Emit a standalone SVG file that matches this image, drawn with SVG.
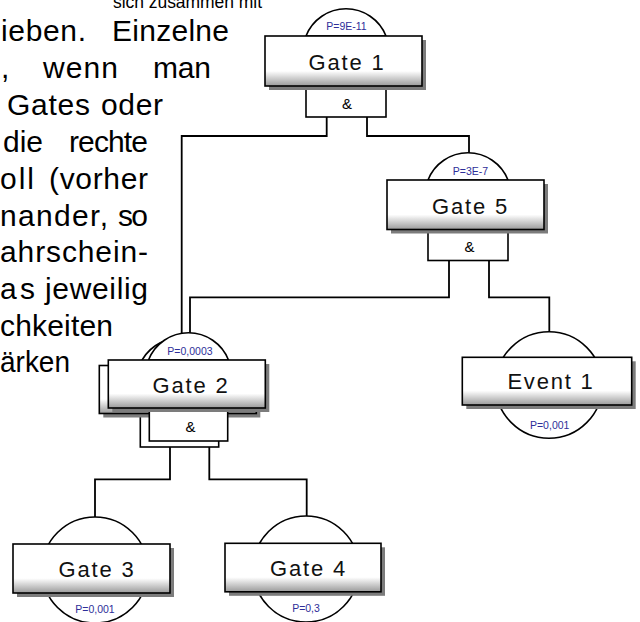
<svg xmlns="http://www.w3.org/2000/svg" width="640" height="622" viewBox="0 0 640 622">
<defs>
<linearGradient id="g" x1="0" y1="0" x2="0" y2="1">
<stop offset="0" stop-color="#ffffff"/>
<stop offset="0.7" stop-color="#ffffff"/>
<stop offset="1" stop-color="#9a9a9a"/>
</linearGradient>
<style>
.body{font-family:"Liberation Sans",Arial,sans-serif;font-size:30px;fill:#000}
.box{fill:url(#g);stroke:#000;stroke-width:1.6}
.sh{fill:#7c7c7c}
.w{fill:#fff;stroke:#000;stroke-width:1.6}
.lbl{font-family:"Liberation Sans",Arial,sans-serif;font-size:22px;letter-spacing:1.8px;text-anchor:middle;fill:#111}
.amp{font-family:"Liberation Sans",Arial,sans-serif;font-size:15px;text-anchor:middle;fill:#000}
.p{font-family:"Liberation Sans",Arial,sans-serif;font-size:10.5px;text-anchor:middle;fill:#2e2e99}
.ln{fill:none;stroke:#000;stroke-width:1.8}
</style>
</defs>
<rect width="640" height="622" fill="#fff"/>
<g id="text">
<text class="body" x="113" y="8" style="font-size:17.5px" textLength="149" lengthAdjust="spacing">sich zusammen mit</text>
<text class="body" x="1" y="41" textLength="85" lengthAdjust="spacing">ieben.</text>
<text class="body" x="112" y="41" textLength="117" lengthAdjust="spacing">Einzelne</text>
<text class="body" x="1" y="78">,</text>
<text class="body" x="43" y="78" textLength="75" lengthAdjust="spacing">wenn</text>
<text class="body" x="153" y="78" textLength="58" lengthAdjust="spacing">man</text>
<text class="body" x="7" y="115" textLength="83" lengthAdjust="spacing">Gates</text>
<text class="body" x="101" y="115" textLength="62" lengthAdjust="spacing">oder</text>
<text class="body" x="3" y="152">die</text>
<text class="body" x="69" y="152" textLength="79" lengthAdjust="spacing">rechte</text>
<text class="body" x="0" y="189" textLength="34" lengthAdjust="spacing">oll</text>
<text class="body" x="49" y="189" textLength="99" lengthAdjust="spacing">(vorher</text>
<text class="body" x="0" y="225.5" textLength="108" lengthAdjust="spacing">nander,</text>
<text class="body" x="118" y="225.5" textLength="30" lengthAdjust="spacing">so</text>
<text class="body" x="0" y="262" textLength="148" lengthAdjust="spacing">ahrschein-</text>
<text class="body" x="0" y="298.5" textLength="35" lengthAdjust="spacing">as</text>
<text class="body" x="45" y="298.5" textLength="103" lengthAdjust="spacing">jeweilig</text>
<text class="body" x="0" y="335.5" textLength="113" lengthAdjust="spacing">chkeiten</text>
<text class="body" x="0" y="372" textLength="70" lengthAdjust="spacingAndGlyphs">ärken</text>
</g>
<g id="connectors">
<polyline class="ln" points="326.7,117 326.7,136 181.7,136 181.7,340"/>
<polyline class="ln" points="367,117 367,136 469,136 469,153"/>
<polyline class="ln" points="449,260.5 449,297.3 190,297.3 190,333"/>
<polyline class="ln" points="489,260.5 489,297.3 549.3,297.3 549.3,332"/>
<polyline class="ln" points="170,447 170,479.3 95,479.3 95,517"/>
<polyline class="ln" points="209.3,447 209.3,479.3 306.7,479.3 306.7,516"/>
</g>
<g id="gate1">
<rect class="w" x="306" y="86" width="80" height="31"/>
<text class="amp" x="347" y="109">&amp;</text>
<path class="w" d="M306,36 A43,43 0 0 1 386,36 Z"/>
<text class="p" x="346.5" y="30">P=9E-11</text>
<rect class="sh" x="269" y="40" width="157" height="50"/>
<rect class="box" x="265" y="36" width="157" height="50"/>
<text class="lbl" x="347" y="69.5">Gate 1</text>
</g>
<g id="gate5">
<rect class="w" x="428" y="229" width="80" height="31.5"/>
<text class="amp" x="469.5" y="252">&amp;</text>
<path class="w" d="M428,180 A43,43 0 0 1 508,180 Z"/>
<text class="p" x="470.5" y="175">P=3E-7</text>
<rect class="sh" x="391" y="184" width="157" height="49.5"/>
<rect class="box" x="387" y="180" width="157" height="49.5"/>
<text class="lbl" x="470.5" y="213.5">Gate 5</text>
</g>
<g id="gate2">
<rect class="w" x="140.3" y="413.5" width="78.4" height="33.5"/>
<path class="w" d="M139.5,365.5 A43,43 0 0 1 219.5,365.5 Z"/>
<rect class="sh" x="103.3" y="369.5" width="157" height="48"/>
<rect class="box" x="99.3" y="365.5" width="157" height="48"/>
<rect class="w" x="149.3" y="408" width="78.4" height="33"/>
<text class="amp" x="190.5" y="431.7">&amp;</text>
<path class="w" d="M148.5,360 A43,43 0 0 1 228.5,360 Z"/>
<text class="p" x="190" y="355">P=0,0003</text>
<rect class="sh" x="112.3" y="364" width="157" height="48"/>
<rect class="box" x="108.3" y="360" width="157" height="48"/>
<text class="lbl" x="191" y="392.5">Gate 2</text>
</g>
<g id="event1">
<circle class="w" cx="549" cy="385" r="53.3"/>
<rect class="sh" x="466.3" y="361.3" width="169.4" height="47.7"/>
<rect class="box" x="462.3" y="357.3" width="169.4" height="47.7"/>
<text class="lbl" x="551" y="389.3">Event 1</text>
<text class="p" x="549.7" y="428.5">P=0,001</text>
</g>
<g id="gate3">
<circle class="w" cx="95" cy="570" r="53"/>
<rect class="sh" x="17" y="548" width="157" height="49"/>
<rect class="box" x="13" y="544" width="157" height="49"/>
<text class="lbl" x="97" y="577.3">Gate 3</text>
<text class="p" x="95" y="612.7">P=0,001</text>
</g>
<g id="gate4">
<circle class="w" cx="306" cy="569" r="53"/>
<rect class="sh" x="229" y="547.3" width="156" height="48.5"/>
<rect class="box" x="225" y="543.3" width="156" height="48.5"/>
<text class="lbl" x="308.5" y="576">Gate 4</text>
<text class="p" x="306" y="611.7">P=0,3</text>
</g>
</svg>
